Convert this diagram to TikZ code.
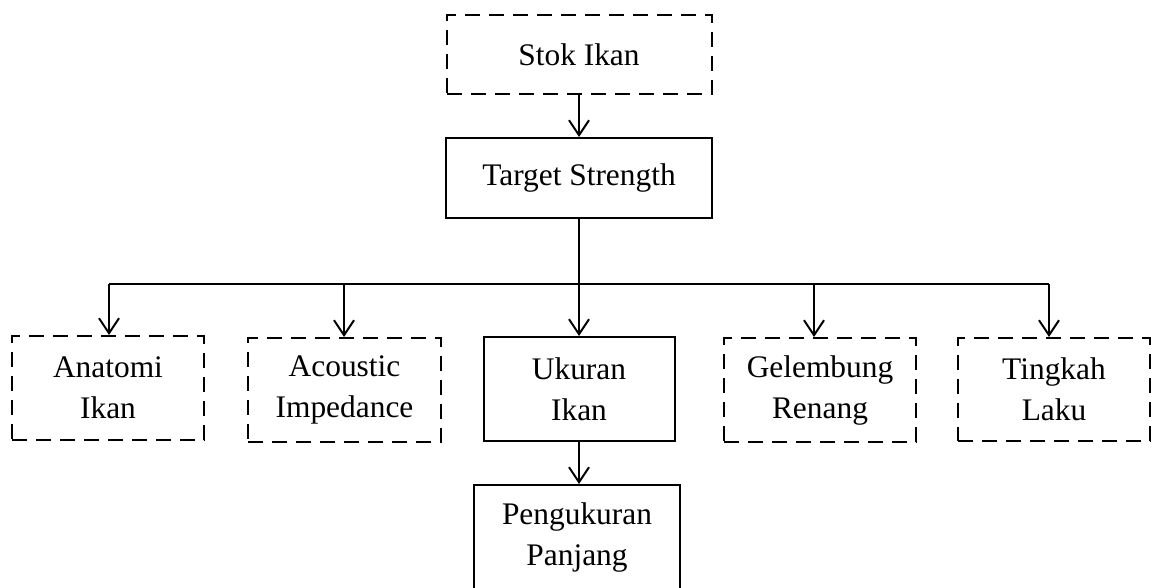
\documentclass[tikz,border=0pt]{standalone}
\usepackage{fontspec}
\setmainfont{Liberation Serif}
\usetikzlibrary{arrows.meta}
\begin{document}
\begin{tikzpicture}[x=1pt,y=-1pt,
  box/.style={draw,line width=2pt,inner sep=0pt,align=center,
    font=\fontsize{31.4pt}{41pt}\selectfont},
  dbox/.style={box,dash pattern=on 15pt off 9pt},
  conn/.style={line width=2pt},
  arr/.style={conn,-{Straight Barb[length=15pt,width=20pt,line width=2pt]}}]
\useasboundingbox (0,0) rectangle (1151,588);
\node[dbox,minimum width=265pt,minimum height=79pt] (stok) at (579,54.5) {Stok Ikan};
\node[box,minimum width=266pt,minimum height=80pt] (ts) at (579,178) {Target Strength};
\node[dbox,minimum width=192pt,minimum height=104pt] (anat) at (108,388) {Anatomi\\Ikan};
\node[dbox,minimum width=193pt,minimum height=104pt] (acou) at (344.5,390) {Acoustic\\Impedance};
\node[box,minimum width=191pt,minimum height=104pt] (uk) at (579,389) {Ukuran\\Ikan};
\node[dbox,minimum width=192pt,minimum height=104pt] (gel) at (820,390) {Gelembung\\Renang};
\node[dbox,minimum width=192pt,minimum height=103pt] (ting) at (1054,389.5) {Tingkah\\Laku};
\node[box,minimum width=206pt,minimum height=105pt] (peng) at (577,537.5) {Pengukuran\\Panjang};
\coordinate (j1) at (109,284);
\coordinate (j2) at (344,284);
\coordinate (j3) at (579,284);
\coordinate (j4) at (814,284);
\coordinate (j5) at (1049,284);
\draw[arr] (stok.south) -- (ts.north);
\draw[conn] (ts.south) -- (j3);
\draw[conn] (j1) -- (j5);
\draw[arr] (j1) -- (j1 |- anat.north);
\draw[arr] (j2) -- (j2 |- acou.north);
\draw[arr] (j3) -- (uk.north);
\draw[arr] (j4) -- (j4 |- gel.north);
\draw[arr] (j5) -- (j5 |- ting.north);
\draw[arr] (uk.south) -- (uk.south |- peng.north);
\end{tikzpicture}
\end{document}
